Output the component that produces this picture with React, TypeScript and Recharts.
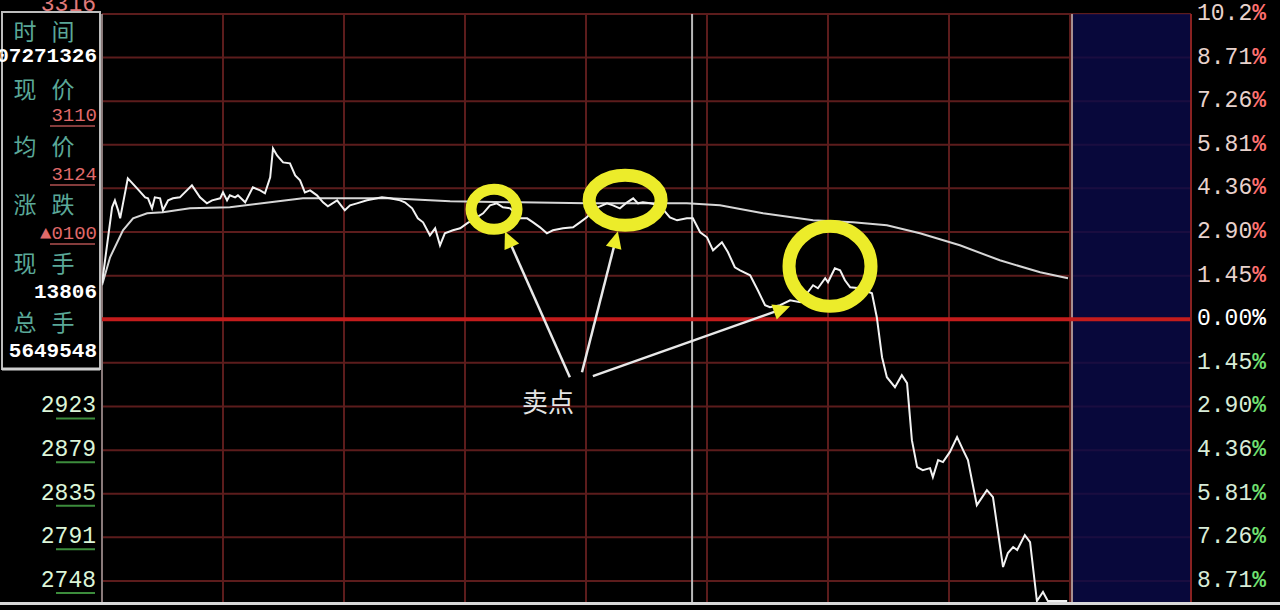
import React from 'react';
import {
  LineChart,
  Line,
  XAxis,
  YAxis,
  CartesianGrid,
  ReferenceLine,
  ReferenceArea,
  ReferenceDot,
} from 'recharts';

// ---------- data ----------
const priceTimes = [
  0, 2.5, 3.2, 4.0, 4.5, 6.4, 8.7, 10.7, 11.4, 12.4, 13.1, 14.4, 15.1, 16.4, 17.6, 19.3, 22.3, 24.3, 26.0, 27.3,
  29.3, 30.0, 31.0, 31.7, 33.0, 33.7, 35.5, 37.4, 39.2, 40.4, 41.7, 42.4, 43.4, 44.9, 46.6, 47.9, 49.1, 50.3, 51.6,
  53.3, 54.8, 56.0, 58.3, 60.2, 61.5, 63.2, 65.7, 68.2, 69.4, 71.4, 73.9, 75.1, 76.9, 78.3, 79.6, 81.3, 82.6, 83.8,
  85.0, 87.0, 88.8, 90.5, 92.5, 94.5, 96.2, 97.9, 99.4, 101.2, 103.6, 105.4, 106.9, 108.6, 110.3, 111.8, 114.3,
  116.8, 118.5, 120.2, 122.2, 123.5, 125.2, 126.7, 128.4, 130.2, 131.7, 132.9, 134.1, 135.9, 138.3, 140.8, 142.6,
  145.0, 146.5, 148.3, 150.0, 151.5, 153.7, 155.2, 156.9, 158.2, 160.7, 162.6, 164.4, 165.6, 168.1, 170.6, 173.1,
  175.0, 176.3, 177.5, 179.3, 180.0, 181.7, 183.0, 184.2, 185.5, 187.9, 190.9, 192.1, 193.4, 194.6, 196.6, 198.3,
  199.6, 200.8, 202.1, 203.5, 205.3, 206.0, 207.3, 208.5, 210.2, 212.0, 213.5, 214.7, 216.9, 219.4, 220.9, 223.4,
  224.6, 225.9, 226.9, 228.8, 230.1, 231.8, 233.3, 234.5, 239.3,
];
const priceValues = [
  3046, 3122, 3129, 3119, 3111, 3151, 3141, 3132, 3131, 3121, 3132, 3131, 3119, 3129, 3131, 3132, 3144, 3132, 3126, 3129,
  3131, 3137, 3129, 3134, 3132, 3134, 3127, 3142, 3139, 3136, 3152, 3181, 3174, 3167, 3166, 3154, 3149, 3137, 3139,
  3134, 3127, 3123, 3129, 3119, 3124, 3126, 3129, 3131, 3132, 3131, 3129, 3127, 3121, 3111, 3107, 3094, 3101, 3084,
  3096, 3099, 3101, 3106, 3111, 3116, 3124, 3126, 3122, 3121, 3111, 3111, 3107, 3102, 3096, 3099, 3101,
  3102, 3107, 3112, 3121, 3123, 3126, 3124, 3121, 3127, 3131, 3126, 3127, 3126, 3124, 3112, 3109,
  3111, 3111, 3097, 3092, 3079, 3087, 3077, 3062, 3059, 3054, 3039, 3024, 3022, 3024, 3029, 3027,
  3037, 3044, 3041, 3051, 3047, 3061, 3059, 3049, 3042, 3041, 3036, 3012, 2972, 2952, 2942, 2954,
  2946, 2889, 2862, 2859, 2861, 2852, 2869, 2867, 2877, 2892, 2879, 2869, 2824, 2839, 2832, 2762,
  2776, 2782, 2779, 2794, 2787, 2728, 2737, 2728, 2728,
];
const avgTimes = [
  0, 2.0, 5.2, 7.7, 11.2, 15.1, 21.8, 31.7, 41.7, 49.8, 58.3, 71.4, 86.3, 103.6, 120.2, 145.0, 153.2, 163.9, 176.3,
  186.2, 194.6, 202.8, 212.7, 222.6, 232.6, 239.5,
];
const avgValues = [
  3044, 3072, 3099, 3111, 3116, 3117, 3121, 3122, 3127, 3131, 3131, 3131, 3128, 3127, 3126, 3126, 3124, 3116, 3109,
  3107, 3104, 3096, 3084, 3069, 3057, 3051,
];

const prevClose = 3010;
const gridTicks = [
  2748.1, 2791.7, 2835.4, 2879.0, 2922.7, 2966.4, 3010, 3053.6, 3097.3, 3141.0, 3184.6, 3228.3, 3271.9, 3315.5,
];
const leftTickLabels = ['2748', '2791', '2835', '2879', '2923', '', '', '', '', '', '', '', '', '3316'];
const rightTickLabels = [
  '8.71', '7.26', '5.81', '4.36', '2.90', '1.45', '0.00', '1.45', '2.90', '4.36', '5.81', '7.26', '8.71', '10.2',
];
const timeTicks = [0, 30, 60, 90, 120, 150, 180, 210, 240, 270];
const cursorTime = 146.3;
const sessionEnd = 240.5;
const axisMaxTime = 270;
const yMin = 2726;
const yMax = 3315.5;

const infoLabels = ['时间', '现价', '均价', '涨跌', '现手', '总手'];
const infoValues = ['07271326', '3110', '3124', '▲0100', '13806', '5649548'];

// annotations (time, price)
const circleTimes = [97.2, 129.7, 180.5];
const circlePrices = [3120, 3129, 3063];
const arrowFromTimes = [116.0, 119.0, 121.7];
const arrowFromPrices = [2952, 2957, 2953];
const arrowToTimes = [99.9, 127.9, 170.6];
const arrowToPrices = [3098, 3098, 3023];
const noteTime = 110.6;
const notePrice = 2929;
const noteText = '卖点';

// ---------- styles ----------
const circleRx = [23, 36, 41];
const circleRy = [20, 25, 40];
const circleStroke = [11, 13, 13];
const YELLOW = '#ecec2a';
const GRID = '#5c1c1c';
const MONO = '"Liberation Mono", "DejaVu Sans Mono", monospace';
const CJK = '"Noto Sans CJK SC", sans-serif';

const priceData = priceTimes.map((t, i) => ({ t, v: priceValues[i] }));
const avgData = avgTimes.map((t, i) => ({ t, v: avgValues[i] }));

function LeftTick(props: any) {
  const { y, payload } = props;
  const i = gridTicks.indexOf(payload.value);
  const label = leftTickLabels[i];
  if (!label) return null;
  const above = payload.value > prevClose;
  return (
    <g>
      <text
        x={96}
        y={above ? y - 9 : y}
        textAnchor="end"
        dominantBaseline="central"
        fontFamily={MONO}
        fontSize={23}
        fill={above ? '#e07a7a' : '#dcf5d8'}
      >
        {label}
      </text>
      {!above && <line x1={56} x2={95} y1={y + 12} y2={y + 12} stroke="#3c8c3c" strokeWidth={2} />}
    </g>
  );
}

function RightTick(props: any) {
  const { y, payload } = props;
  const i = gridTicks.indexOf(payload.value);
  const label = rightTickLabels[i];
  const v = payload.value;
  const numColor = v > prevClose + 1 ? '#e8d2cc' : v < prevClose - 1 ? '#d8ecd8' : '#ffffff';
  const pctColor = v > prevClose + 1 ? '#ff7070' : v < prevClose - 1 ? '#70e070' : '#ffffff';
  return (
    <text x={1197} y={y} dominantBaseline="central" fontFamily={MONO} fontSize={23}>
      <tspan fill={numColor}>{label}</tspan>
      <tspan fill={pctColor} fontWeight="bold">%</tspan>
    </text>
  );
}

function makeEllipse(k: number) {
  return (p: any) => (
    <ellipse
      cx={p.cx}
      cy={p.cy}
      rx={circleRx[k]}
      ry={circleRy[k]}
      fill="none"
      stroke={YELLOW}
      strokeWidth={circleStroke[k]}
    />
  );
}

function ArrowShape(p: any) {
  const { x1, y1, x2, y2 } = p;
  const dx = x2 - x1;
  const dy = y2 - y1;
  const len = Math.sqrt(dx * dx + dy * dy) || 1;
  const ux = dx / len;
  const uy = dy / len;
  const nx = -uy;
  const ny = ux;
  const L = 17;
  const Wd = 8;
  const bx = x2 - ux * L;
  const by = y2 - uy * L;
  return (
    <g>
      <line x1={x1} y1={y1} x2={x2 - ux * 8} y2={y2 - uy * 8} stroke="#e8e8e8" strokeWidth={2.5} />
      <polygon
        points={`${x2},${y2} ${bx + nx * Wd},${by + ny * Wd} ${bx - nx * Wd},${by - ny * Wd}`}
        fill={YELLOW}
      />
    </g>
  );
}

function NoteShape(p: any) {
  return (
    <text
      x={p.cx}
      y={p.cy}
      textAnchor="middle"
      dominantBaseline="central"
      fontFamily={CJK}
      fontSize={26}
      fill="#e4e4e4"
    >
      {noteText}
    </text>
  );
}

const labelRowY = [30, 88, 145, 203, 262, 321];
const valueRowY = [56, 116, 175, 234, 292, 351];
const valueColor = ['#ffffff', '#e06a6a', '#e06a6a', '#e06a6a', '#ffffff', '#ffffff'];
const valueSize = [21, 19, 19, 19, 21, 21];
const valueBold = [true, false, false, false, true, true];

function InfoBox() {
  return (
    <svg
      width={104}
      height={374}
      style={{ position: 'absolute', left: 0, top: 0, zIndex: 2 }}
    >
      <rect x={2} y={12} width={98} height={357} fill="#000" stroke="#bdbdbd" strokeWidth={2} />
      <line x1={2} x2={100} y1={369} y2={369} stroke="#d0d0d0" strokeWidth={3} />
      {infoLabels.map((lab, i) => (
        <g key={lab}>
          <text
            x={25}
            y={labelRowY[i]}
            textAnchor="middle"
            dominantBaseline="central"
            fontFamily={CJK}
            fontSize={23}
            fill="#5aa898"
          >
            {lab[0]}
          </text>
          <text
            x={63}
            y={labelRowY[i]}
            textAnchor="middle"
            dominantBaseline="central"
            fontFamily={CJK}
            fontSize={23}
            fill="#5aa898"
          >
            {lab[1]}
          </text>
        </g>
      ))}
      {infoValues.map((val, i) => (
        <g key={val}>
          <text
            x={97}
            y={valueRowY[i]}
            textAnchor="end"
            dominantBaseline="central"
            fontFamily={MONO}
            fontSize={valueSize[i]}
            fontWeight={valueBold[i] ? 'bold' : 'normal'}
            fill={valueColor[i]}
          >
            {val}
          </text>
          {!valueBold[i] && (
            <line
              x1={50}
              x2={95}
              y1={valueRowY[i] + 10}
              y2={valueRowY[i] + 10}
              stroke="#b05050"
              strokeWidth={1.5}
            />
          )}
        </g>
      ))}
    </svg>
  );
}

export default function App() {
  return (
    <div
      style={{
        position: 'absolute',
        left: 0,
        top: 0,
        width: 1280,
        height: 610,
        background: '#000',
        overflow: 'hidden',
      }}
    >
      <LineChart width={1280} height={610} margin={{ top: 14, right: 0, bottom: 7, left: 0 }}>
        <CartesianGrid stroke={GRID} strokeWidth={2} yAxisId="p" vertical={false} />
        <XAxis
          dataKey="t"
          type="number"
          domain={[0, axisMaxTime]}
          ticks={timeTicks}
          height={0}
          tick={false}
          axisLine={false}
          tickLine={false}
          allowDataOverflow
        />
        <YAxis
          yAxisId="p"
          orientation="left"
          width={102}
          domain={[yMin, yMax]}
          ticks={gridTicks}
          tick={<LeftTick />}
          axisLine={false}
          tickLine={false}
          interval={0}
          allowDataOverflow
        />
        <YAxis
          yAxisId="r"
          orientation="right"
          width={89}
          domain={[yMin, yMax]}
          ticks={gridTicks}
          tick={<RightTick />}
          axisLine={{ stroke: '#8a2222', strokeWidth: 2 }}
          tickLine={false}
          interval={0}
          allowDataOverflow
        />
        <ReferenceArea
          yAxisId="p"
          x1={sessionEnd}
          x2={axisMaxTime}
          y1={yMin}
          y2={yMax}
          fill="#0a0a4a"
          fillOpacity={0.8}
          stroke="none"
        />
        {timeTicks.slice(1, -1).map((t) => (
          <ReferenceLine key={'v' + t} yAxisId="p" x={t} stroke={GRID} strokeWidth={2} />
        ))}
        <ReferenceLine yAxisId="p" x={0} stroke="#8a7a7a" strokeWidth={2} />
        <ReferenceLine yAxisId="p" x={cursorTime} stroke="#b8b8b8" strokeWidth={2} />
        <ReferenceLine yAxisId="p" x={sessionEnd} stroke="#a89090" strokeWidth={2} />
        <ReferenceLine yAxisId="p" y={prevClose} stroke="#c41c1c" strokeWidth={4} />
        <Line
          yAxisId="p"
          data={avgData}
          dataKey="v"
          type="linear"
          stroke="#d6d6d6"
          strokeWidth={2}
          dot={false}
          isAnimationActive={false}
        />
        <Line
          yAxisId="p"
          data={priceData}
          dataKey="v"
          type="linear"
          stroke="#f2f2f2"
          strokeWidth={2}
          dot={false}
          isAnimationActive={false}
        />
        {circleTimes.map((t, k) => (
          <ReferenceDot
            key={'c' + k}
            yAxisId="p"
            x={t}
            y={circlePrices[k]}
            r={circleRx[k]}
            shape={makeEllipse(k)}
          />
        ))}
        {arrowFromTimes.map((t, k) => (
          <ReferenceLine
            key={'a' + k}
            yAxisId="p"
            segment={[
              { x: t, y: arrowFromPrices[k] },
              { x: arrowToTimes[k], y: arrowToPrices[k] },
            ]}
            shape={ArrowShape}
          />
        ))}
        <ReferenceDot yAxisId="p" x={noteTime} y={notePrice} r={1} shape={NoteShape} />
      </LineChart>
      <InfoBox />
      <div
        style={{
          position: 'absolute',
          left: 0,
          top: 602,
          width: 1280,
          height: 3,
          background: '#d8d8d8',
          zIndex: 3,
        }}
      />
    </div>
  );
}
